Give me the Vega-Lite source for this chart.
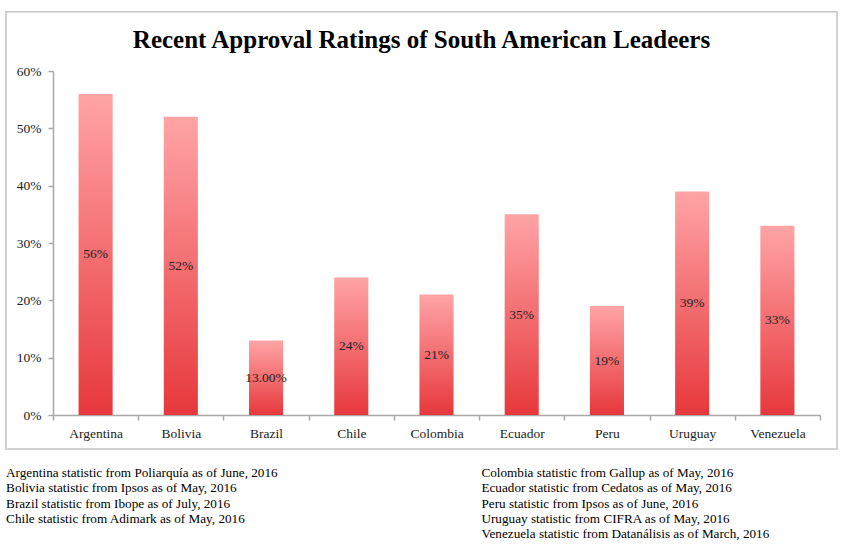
{
  "$schema": "https://vega.github.io/schema/vega-lite/v6.json",
  "padding": {"left": 5, "top": 10, "right": 0, "bottom": 0},
  "background": "white",
  "spacing": 16,
  "align": "none",
  "config": {
    "view": {"stroke": null},
    "font": "Liberation Serif"
  },
  "vconcat": [
    {
      "width": 767,
      "height": 344,
      "title": {
        "text": "Recent Approval Ratings of South American Leadeers",
        "font": "Liberation Serif",
        "fontSize": 25,
        "fontWeight": "bold",
        "color": "#000000",
        "anchor": "middle",
        "baseline": "alphabetic",
        "offset": -62,
        "dx": -15
      },
      "layer": [
        {
          "data": {"values": [{}]},
          "mark": {"type": "rect", "fill": null, "stroke": "#C4C4C4", "strokeWidth": 1.5},
          "encoding": {
            "x": {"datum": -0.0613, "type": "quantitative", "scale": {"domain": [0, 1]}, "axis": null},
            "x2": {"datum": 1.0222},
            "y": {"datum": 0.7034, "type": "quantitative", "scale": {"domain": [0, 0.6]}},
            "y2": {"datum": -0.0593}
          }
        },
        {
          "data": {
            "values": [
              {"country": "Argentina", "value": 0.56, "label": "56%"},
              {"country": "Bolivia", "value": 0.52, "label": "52%"},
              {"country": "Brazil", "value": 0.13, "label": "13.00%"},
              {"country": "Chile", "value": 0.24, "label": "24%"},
              {"country": "Colombia", "value": 0.21, "label": "21%"},
              {"country": "Ecuador", "value": 0.35, "label": "35%"},
              {"country": "Peru", "value": 0.19, "label": "19%"},
              {"country": "Uruguay", "value": 0.39, "label": "39%"},
              {"country": "Venezuela", "value": 0.33, "label": "33%"}
            ]
          },
          "encoding": {
            "x": {
              "field": "country",
              "type": "nominal",
              "sort": null,
              "scale": {"paddingInner": 0, "paddingOuter": 0},
              "axis": {
                "title": null,
                "labelAngle": 0,
                "labelFont": "Liberation Serif",
                "labelFontSize": 13.5,
                "labelColor": "#222222",
                "labelPadding": 6,
                "tickBand": "extent",
                "tickSize": 5,
                "tickColor": "#A8A8A8",
                "tickWidth": 1.5,
                "domainColor": "#A8A8A8",
                "domainWidth": 1.5,
                "grid": false
              }
            }
          },
          "layer": [
            {
              "mark": {
                "type": "bar",
                "width": {"band": 0.4},
                "color": {
                  "gradient": "linear",
                  "x1": 0, "y1": 0, "x2": 0, "y2": 1,
                  "stops": [
                    {"offset": 0, "color": "#FFA4A6"},
                    {"offset": 1, "color": "#E7383C"}
                  ]
                }
              },
              "encoding": {
                "y": {
                  "field": "value",
                  "type": "quantitative",
                  "scale": {"domain": [0, 0.6]},
                  "axis": {
                    "title": null,
                    "format": ".0%",
                    "values": [0, 0.1, 0.2, 0.3, 0.4, 0.5, 0.6],
                    "labelFont": "Liberation Serif",
                    "labelFontSize": 13.5,
                    "labelColor": "#222222",
                    "labelPadding": 7,
                    "tickSize": 5,
                    "tickColor": "#A8A8A8",
                    "tickWidth": 1.5,
                    "domainColor": "#A8A8A8",
                    "domainWidth": 1.5,
                    "gridColor": "#C8C8C8",
                    "gridWidth": 1.5
                  }
                }
              }
            },
            {
              "transform": [{"calculate": "datum.value / 2", "as": "mid"}],
              "mark": {"type": "text", "font": "Liberation Serif", "fontSize": 13.5, "color": "#222222", "baseline": "middle"},
              "encoding": {
                "y": {"field": "mid", "type": "quantitative"},
                "text": {"field": "label"}
              }
            }
          ]
        }
      ],
      "resolve": {"scale": {"x": "independent"}, "axis": {"x": "independent"}}
    },
    {
      "width": 767,
      "height": 61,
      "data": {
        "values": [
          {"col": 0, "line": 0, "text": "Argentina statistic from Poliarquía as of June, 2016"},
          {"col": 0, "line": 1, "text": "Bolivia statistic from Ipsos as of May, 2016"},
          {"col": 0, "line": 2, "text": "Brazil statistic from Ibope as of July, 2016"},
          {"col": 0, "line": 3, "text": "Chile statistic from Adimark as of May, 2016"},
          {"col": 1, "line": 0, "text": "Colombia statistic from Gallup as of May, 2016"},
          {"col": 1, "line": 1, "text": "Ecuador statistic from Cedatos as of May, 2016"},
          {"col": 1, "line": 2, "text": "Peru statistic from Ipsos as of June, 2016"},
          {"col": 1, "line": 3, "text": "Uruguay statistic from CIFRA as of May, 2016"},
          {"col": 1, "line": 4, "text": "Venezuela statistic from Datanálisis as of March, 2016"}
        ]
      },
      "mark": {"type": "text", "align": "left", "baseline": "middle", "font": "Liberation Serif", "fontSize": 13.2, "color": "#000000"},
      "encoding": {
        "x": {"field": "col", "type": "quantitative", "scale": {"domain": [0.0987, 1.7122]}, "axis": null},
        "y": {"field": "line", "type": "quantitative", "scale": {"domain": [0, 4], "reverse": true}, "axis": null},
        "text": {"field": "text"}
      }
    }
  ]
}
